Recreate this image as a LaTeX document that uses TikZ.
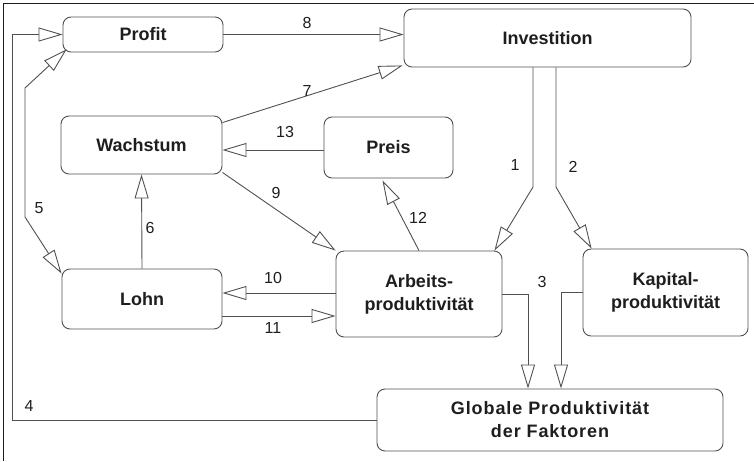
\documentclass[tikz,border=0pt]{standalone}
\usepackage{fontspec}
\setmainfont{Liberation Sans}
\usetikzlibrary{arrows.meta, positioning, calc}
\definecolor{linegray}{HTML}{505050}
\definecolor{textdark}{HTML}{1E1E1E}

\begin{document}
\begin{tikzpicture}[
  x=1pt, y=-1pt,
  >={Triangle[open, length=24pt, width=14pt]},
  box/.style={rectangle, rounded corners=8pt, draw=linegray, line width=0.9pt, text=textdark, align=center, font=\fontsize{18}{23}\selectfont\bfseries},
  arrow/.style={->, line width=0.9pt, draw=linegray},
  num/.style={font=\fontsize{16}{18}\selectfont, text=textdark, inner sep=0pt}
]
  \useasboundingbox (0,0) rectangle (754,461);
  \draw[textdark, line width=1pt] (3,461) -- (3,3) -- (754,3);

  % Boxes
  \node[box, minimum width=160pt, minimum height=35pt] (profit) at (143,34.5) {Profit};
  \node[box, minimum width=287pt, minimum height=58pt] (invest) at (547.5,38) {Investition};
  \node[box, minimum width=161pt, minimum height=58pt] (wachstum) at (141.5,145) {Wachstum};
  \node[box, minimum width=129pt, minimum height=61pt] (preis) at (388.5,147.5) {Preis};
  \node[box, minimum width=160pt, minimum height=60pt] (lohn) at (142,299) {Lohn};
  \node[box, minimum width=166pt, minimum height=86pt] (arbeit) at (419,294) {Arbeits-\\produktivität};
  \node[box, minimum width=165pt, minimum height=87pt] (kapital) at (665.5,292.5) {Kapital-\\produktivität};
  \node[box, minimum width=346pt, minimum height=62pt, font=\fontsize{18}{23}\selectfont\bfseries\addfontfeatures{LetterSpace=5}] (global) at (550,420) {Globale Produktivität\\der Faktoren};

  % Bend points
  \coordinate (b1) at (533,187);
  \coordinate (b2) at (556,187);
  \coordinate (b4) at (12,0);
  \coordinate (b5a) at (25,88);
  \coordinate (b5b) at (25,217);
  \coordinate (r10) at (0,293);
  \coordinate (r11) at (0,316);

  % Arrows
  \draw[arrow] (invest.south -| b1) -- (b1) -- ([xshift=-8pt]arbeit.north east);
  \draw[arrow] (invest.south -| b2) -- (b2) -- ([xshift=9pt]kapital.north west);
  \draw[arrow] (arbeit.east) -| ([xshift=-22pt]global.north);
  \draw[arrow] (kapital.west) -| ([xshift=11pt]global.north);
  \draw[arrow] (global.west) -- (global.west -| b4) |- (profit.west);
  \draw[arrow, <->] ([xshift=4pt,yshift=3pt]profit.south west) -- (b5a) -- (b5b) -- ([yshift=-5pt]lohn.north west);
  \draw[arrow] (lohn.north) -- (wachstum.south);
  \draw[arrow] ([yshift=-7pt]wachstum.north east) -- ([xshift=-1pt,yshift=2pt]invest.south west);
  \draw[arrow] (profit.east) -- (profit.east -| invest.west);
  \draw[arrow] ([yshift=2pt]wachstum.south east) -- (arbeit.north west);
  \draw[arrow] (arbeit.west |- r10) -- (lohn.east |- r10);
  \draw[arrow] (lohn.east |- r11) -- (arbeit.west |- r11);
  \draw[arrow] (arbeit.north) -- ([xshift=-6pt,yshift=-2pt]preis.south);
  \draw[arrow] ([yshift=-2.5pt]preis.west) -- ([yshift=-2.5pt]preis.west -| wachstum.east);

  % Labels
  \node[num] (n1) at (515,165) {1};
  \node[num] (n2) at (573,167) {2};
  \node[num] (n3) at (542,282) {3};
  \node[num] (n4) at (29,406) {4};
  \node[num] (n5) at (39,208) {5};
  \node[num] (n6) at (150,228) {6};
  \node[num] (n7) at (307,91) {7};
  \node[num] (n8) at (307,23) {8};
  \node[num] (n9) at (276,193) {9};
  \node[num] (n10) at (273,278) {10};
  \node[num] (n11) at (273,328) {11};
  \node[num] (n12) at (418,218) {12};
  \node[num] (n13) at (285,132) {13};
\end{tikzpicture}
\end{document}
